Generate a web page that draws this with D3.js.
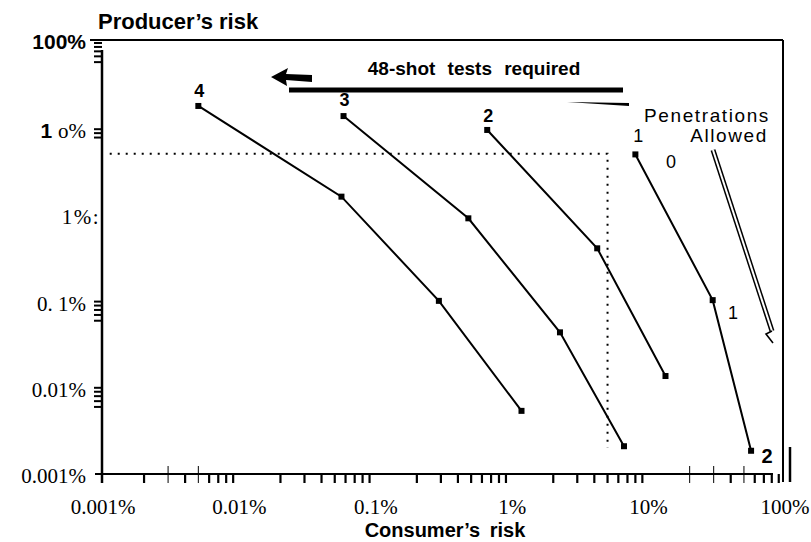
<!DOCTYPE html>
<html>
<head>
<meta charset="utf-8">
<script src="https://cdn.jsdelivr.net/npm/d3@7"></script>
<style>
  body { margin: 0; background: #fff; }
  svg { display: block; }
  .sans { font-family: "Liberation Sans", Arial, sans-serif; }
  .serif { font-family: "Liberation Serif", "Times New Roman", serif; }
</style>
</head>
<body>
<svg width="811" height="542"></svg>
<script>
// values in percent
const series = ["4", "3", "2", "1"];
const consumerRisk = [
  [0.005, 0.056, 0.29, 1.17],
  [0.058, 0.477, 2.24, 6.6],
  [0.656, 4.2, 13.3],
  [8.0, 29.5, 56.4]
];
const producerRisk = [
  [18.6, 1.65, 0.102, 0.0054],
  [14.2, 0.925, 0.044, 0.0021],
  [9.8, 0.415, 0.0137],
  [5.1, 0.104, 0.00186]
];
const xTicks = [0.001, 0.01, 0.1, 1, 10, 100];
const xTickLabels = ["0.001%", "0.01%", "0.1%", "1%", "10%", "100%"];
const yTicks = [0.001, 0.01, 0.1, 1, 10, 100];
const yTickLabels = ["0.001%", "0.01%", "0. 1%", "1%:", "1 o%", "100%"];
// minor tick multipliers inside a decade
const xMinorMult = [2, 3, 4, 5, 6, 7, 8, 9];
const xThin = [0.003, 0.005, 20, 30, 50];
// 5% / 5% reference lines
const refX = 5, refY = 5.2;

const svg = d3.select("svg");

const x = d3.scaleLog().domain([0.001, 100]).range([103, 785]);
const y = d3.scaleLog().domain([0.001, 100]).range([474, 43]);

// frame
const frame = svg.append("g").attr("stroke", "#000");
frame.append("line").attr("x1", 90).attr("x2", 783).attr("y1", 40).attr("y2", 40).attr("stroke-width", 2);
frame.append("line").attr("x1", 783).attr("x2", 783).attr("y1", 40).attr("y2", 482).attr("stroke-width", 2);
frame.append("line").attr("x1", 790).attr("x2", 790).attr("y1", 447).attr("y2", 482).attr("stroke-width", 2.5);
frame.append("line").attr("x1", 102).attr("x2", 102).attr("y1", 50).attr("y2", 483).attr("stroke-width", 2.5);
frame.append("line").attr("x1", 95).attr("x2", 773).attr("y1", 474).attr("y2", 474).attr("stroke-width", 2);

// x minor ticks
const xMinor = [];
[0.001, 0.01, 0.1, 1, 10].forEach(d => xMinorMult.forEach(m => xMinor.push(d * m)));
const xTickG = svg.append("g").attr("class", "xminor");
xMinor.forEach(d => {
  const thin = xThin.some(t => Math.abs(t - d) / t < 1e-6);
  xTickG.append("line")
    .attr("x1", x(d)).attr("x2", x(d))
    .attr("y1", thin ? 466 : 474).attr("y2", 483)
    .attr("stroke", "#000")
    .attr("stroke-width", thin ? 1 : 2.2);
});

svg.append("g").selectAll("text")
  .data(xTicks)
  .join("text")
  .attr("class", "serif")
  .attr("x", d => x(d))
  .attr("y", 514)
  .attr("text-anchor", "middle")
  .attr("font-size", 21)
  .text((d, i) => xTickLabels[i]);

// y tick clusters
const yMinor = [];
[10, 0.01, 0.001].forEach(d => {
  for (let m = 6; m <= 10; m++) yMinor.push(d * m);
});
for (let m = 8; m <= 10; m++) yMinor.push(m);
const yTickG = svg.append("g").attr("class", "yminor");
yMinor.forEach(d => {
  yTickG.append("line")
    .attr("x1", 94).attr("x2", 102)
    .attr("y1", y(d)).attr("y2", y(d))
    .attr("stroke", "#000")
    .attr("stroke-width", 2);
});

const yLab = svg.append("g");
yTicks.forEach((d, i) => {
  const t = yLab.append("text")
    .attr("x", d === 1 ? 100 : 86)
    .attr("y", y(d) + (d === 100 ? 6 : 9))
    .attr("text-anchor", "end")
    .attr("font-size", 21);
  if (d === 100) {
    t.attr("class", "sans").attr("font-weight", "bold").text(yTickLabels[i]);
  } else if (d === 10) {
    t.append("tspan").attr("class", "sans").attr("font-weight", "bold").text("1 ");
    t.append("tspan").attr("class", "serif").text("o%");
  } else {
    t.attr("class", "serif").attr("letter-spacing", d === 1 ? 1.5 : 0).text(yTickLabels[i]);
  }
});

// axis titles
svg.append("text").attr("class", "sans")
  .attr("x", 98).attr("y", 29)
  .attr("font-size", 22).attr("font-weight", "bold")
  .text("Producer\u2019s risk");
svg.append("text").attr("class", "sans")
  .attr("x", 445).attr("y", 537)
  .attr("text-anchor", "middle")
  .attr("font-size", 20).attr("font-weight", "bold")
  .attr("word-spacing", 4)
  .text("Consumer\u2019s risk");

// dotted reference lines
svg.append("path")
  .attr("d", d3.line()([[x(0.00112), y(refY)], [x(refX), y(refY)], [x(refX), y(0.002)]]))
  .attr("fill", "none")
  .attr("stroke", "#000")
  .attr("stroke-width", 2)
  .attr("stroke-dasharray", "2,6");

// series lines and markers
const lineGen = d3.line().x(d => x(d[0])).y(d => y(d[1]));
series.forEach((s, i) => {
  const pts = consumerRisk[i].map((v, j) => [v, producerRisk[i][j]]);
  svg.append("path")
    .attr("d", lineGen(pts))
    .attr("fill", "none")
    .attr("stroke", "#000")
    .attr("stroke-width", 2);
  svg.append("g").selectAll("rect")
    .data(pts)
    .join("rect")
    .attr("x", d => x(d[0]) - 3)
    .attr("y", d => y(d[1]) - 3)
    .attr("width", 6)
    .attr("height", 6)
    .attr("fill", "#000");
});

// series labels above first points
const labelDy = [-9, -10, -8, -12];
series.forEach((s, i) => {
  svg.append("text").attr("class", "sans")
    .attr("x", x(consumerRisk[i][0]) + (i === 3 ? 3 : 1))
    .attr("y", y(producerRisk[i][0]) + labelDy[i])
    .attr("text-anchor", "middle")
    .attr("font-size", 18)
    .attr("font-weight", i === 3 ? "normal" : "bold")
    .text(s);
});

// penetration counts along the last curve
svg.append("text").attr("class", "sans").attr("x", 671).attr("y", 168)
  .attr("text-anchor", "middle").attr("font-size", 18).text("0");
svg.append("text").attr("class", "sans").attr("x", 733).attr("y", 319)
  .attr("text-anchor", "middle").attr("font-size", 18).text("1");
svg.append("text").attr("class", "sans").attr("x", 767).attr("y", 463)
  .attr("text-anchor", "middle").attr("font-size", 20).attr("font-weight", "bold").text("2");

svg.append("text").attr("class", "sans").attr("x", 707).attr("y", 122)
  .attr("text-anchor", "middle").attr("font-size", 19).attr("letter-spacing", 1.6)
  .text("Penetrations");
svg.append("text").attr("class", "sans").attr("x", 729).attr("y", 142)
  .attr("text-anchor", "middle").attr("font-size", 19).attr("letter-spacing", 1.6)
  .text("Allowed");

// double-line pointer
const ptr = [[713, 150], [772, 331]];
svg.append("path").attr("d", d3.line()(ptr))
  .attr("stroke", "#000").attr("stroke-width", 5).attr("fill", "none");
svg.append("path").attr("d", d3.line()(ptr))
  .attr("stroke", "#fff").attr("stroke-width", 2).attr("fill", "none");
svg.append("path").attr("d", d3.line()([[772, 331], [766, 334], [773, 343]]))
  .attr("stroke", "#000").attr("stroke-width", 1.6).attr("fill", "none");

// 48-shot annotation
svg.append("text").attr("class", "sans")
  .attr("x", 474).attr("y", 75)
  .attr("text-anchor", "middle")
  .attr("font-size", 19).attr("font-weight", "bold")
  .attr("word-spacing", 7)
  .text("48-shot tests required");
svg.append("line").attr("x1", 289).attr("x2", 623).attr("y1", 90).attr("y2", 90)
  .attr("stroke", "#000").attr("stroke-width", 5);
svg.append("path")
  .attr("d", "M271,77 L288,68 L286,74 L312,75 L312,82 L286,80 L287,86 Z")
  .attr("fill", "#000");
svg.append("path")
  .attr("d", "M567,102 L629,103 L629,106 Z")
  .attr("fill", "#000");
</script>
</body>
</html>
